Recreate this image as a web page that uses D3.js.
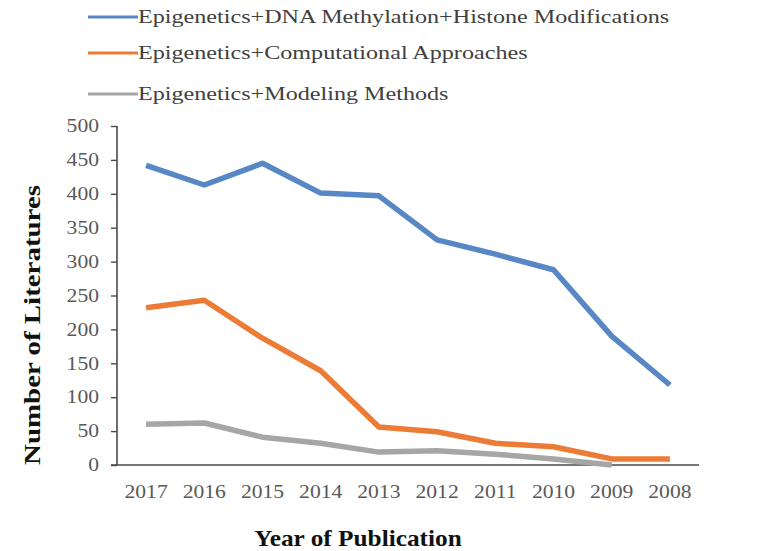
<!DOCTYPE html>
<html>
<head>
<meta charset="utf-8">
<script src="https://cdn.jsdelivr.net/npm/d3@7"></script>
<style>
  html, body { margin: 0; padding: 0; background: #fff; }
  svg { display: block; }
  text { font-family: "Liberation Serif", "Times New Roman", serif; }
</style>
</head>
<body>
<svg id="chart" width="776" height="551"></svg>
<script>
// Publication years, newest first
const years = ["2017", "2016", "2015", "2014", "2013", "2012", "2011", "2010", "2009", "2008"];

// Number of literatures per year for each keyword combination
const methylationHistone = [442, 413, 445, 401, 397, 332, 311, 288, 190, 118];
const computational      = [232, 243, 187, 139, 56, 49, 32, 27, 9, 9];
const modeling           = [60, 62, 41, 32, 19, 21, 16, 9, 0, null];

const seriesNames = [
  "Epigenetics+DNA Methylation+Histone Modifications",
  "Epigenetics+Computational Approaches",
  "Epigenetics+Modeling Methods"
];
const seriesColors = ["#5787c4", "#ec7c35", "#a6a6a6"];

const yTicks = [0, 50, 100, 150, 200, 250, 300, 350, 400, 450, 500];

const series = [methylationHistone, computational, modeling].map((vals, i) => ({
  name: seriesNames[i],
  color: seriesColors[i],
  values: vals.map((v, j) => ({ year: years[j], value: v }))
}));

const svg = d3.select("#chart");
const stretch = 1.2; // horizontal widening of the serif glyphs

const plot = { left: 117, right: 699, top: 126, bottom: 465 };

const x = d3.scaleBand().domain(years).range([plot.left, plot.right]);
const y = d3.scaleLinear().domain([0, 500]).range([plot.bottom, plot.top]);

function widen(sel, k) {
  sel.each(function () {
    const w = this.getComputedTextLength();
    d3.select(this).attr("textLength", w * k).attr("lengthAdjust", "spacingAndGlyphs");
  });
}

// Y axis
const yAxis = svg.append("g")
  .attr("transform", `translate(${plot.left},0)`)
  .call(d3.axisLeft(y).tickValues(yTicks).tickSize(6).tickPadding(12).tickFormat(d3.format("d")));
yAxis.select(".domain").attr("stroke", "#4a4a4a").attr("stroke-width", 1.6).attr("d", `M0,${plot.top}V${plot.bottom}`);
yAxis.selectAll(".tick line").attr("stroke", "#4a4a4a").attr("stroke-width", 1.4);
yAxis.selectAll(".tick text")
  .attr("fill", "#595959")
  .style("font-family", "'Liberation Serif', serif")
  .style("font-size", "18px")
  .call(widen, stretch);

// X axis
const xAxis = svg.append("g")
  .attr("transform", `translate(0,${plot.bottom})`)
  .call(d3.axisBottom(x).tickSize(0).tickPadding(20));
xAxis.select(".domain").attr("stroke", "#4a4a4a").attr("stroke-width", 1.6)
  .attr("d", `M${plot.left - 6},0H${plot.right}`);
xAxis.selectAll(".tick text")
  .attr("fill", "#595959")
  .style("font-family", "'Liberation Serif', serif")
  .style("font-size", "18px")
  .call(widen, stretch);

// Series lines
const line = d3.line()
  .defined(d => d.value !== null)
  .x(d => x(d.year) + x.bandwidth() / 2)
  .y(d => y(d.value));

svg.append("g")
  .selectAll("path")
  .data(series)
  .join("path")
  .attr("fill", "none")
  .attr("stroke", d => d.color)
  .attr("stroke-width", 5.5)
  .attr("stroke-linejoin", "round")
  .attr("d", d => line(d.values));

// Axis titles
svg.append("text")
  .attr("transform", `translate(40,325) rotate(-90)`)
  .attr("text-anchor", "middle")
  .style("font-size", "23px")
  .style("font-weight", "bold")
  .attr("fill", "#111")
  .text("Number of Literatures")
  .attr("textLength", 280)
  .attr("lengthAdjust", "spacingAndGlyphs");

svg.append("text")
  .attr("x", 358)
  .attr("y", 546)
  .attr("text-anchor", "middle")
  .style("font-size", "23px")
  .style("font-weight", "bold")
  .attr("fill", "#111")
  .text("Year of Publication")
  .call(widen, 1.1);

// Legend
const legendRows = [17, 53, 94];
const legend = svg.append("g")
  .selectAll("g")
  .data(series)
  .join("g")
  .attr("transform", (d, i) => `translate(88,${legendRows[i]})`);

legend.append("line")
  .attr("x1", 0).attr("x2", 50)
  .attr("stroke", d => d.color)
  .attr("stroke-width", 3);

legend.append("text")
  .attr("x", 50)
  .attr("dy", "0.33em")
  .attr("fill", "#404040")
  .style("font-size", "19px")
  .text(d => d.name)
  .call(widen, 1.27);
</script>
</body>
</html>
